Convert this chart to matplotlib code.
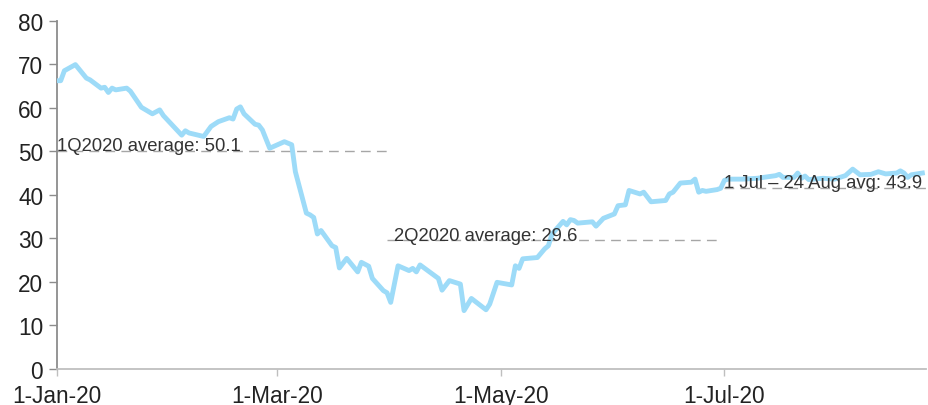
import matplotlib
matplotlib.use("Agg")
import matplotlib.pyplot as plt
import pandas as pd

# Daily price points (US$/bbl)
dates = [
    "2020-01-01", "2020-01-02", "2020-01-03", "2020-01-06", "2020-01-09", "2020-01-10",
    "2020-01-13", "2020-01-14", "2020-01-15", "2020-01-16", "2020-01-17", "2020-01-20",
    "2020-01-21", "2020-01-24", "2020-01-27", "2020-01-29", "2020-01-30", "2020-02-04",
    "2020-02-05", "2020-02-06", "2020-02-10", "2020-02-12", "2020-02-14", "2020-02-17",
    "2020-02-18", "2020-02-19", "2020-02-20", "2020-02-21", "2020-02-24", "2020-02-25",
    "2020-02-26", "2020-02-28", "2020-03-03", "2020-03-05", "2020-03-06", "2020-03-09",
    "2020-03-10", "2020-03-11", "2020-03-12", "2020-03-13", "2020-03-16", "2020-03-17",
    "2020-03-18", "2020-03-20", "2020-03-23", "2020-03-24", "2020-03-26", "2020-03-27",
    "2020-03-30", "2020-03-31", "2020-04-01", "2020-04-03", "2020-04-06", "2020-04-07",
    "2020-04-08", "2020-04-09", "2020-04-14", "2020-04-15", "2020-04-17", "2020-04-20",
    "2020-04-21", "2020-04-23", "2020-04-27", "2020-04-28", "2020-04-30", "2020-05-04",
    "2020-05-05", "2020-05-06", "2020-05-07", "2020-05-11", "2020-05-13", "2020-05-14",
    "2020-05-15", "2020-05-18", "2020-05-19", "2020-05-20", "2020-05-21", "2020-05-22",
    "2020-05-26", "2020-05-27", "2020-05-29", "2020-06-01", "2020-06-02", "2020-06-04",
    "2020-06-05", "2020-06-08", "2020-06-09", "2020-06-11", "2020-06-15", "2020-06-16",
    "2020-06-17", "2020-06-19", "2020-06-22", "2020-06-23", "2020-06-24", "2020-06-25",
    "2020-06-26", "2020-06-29", "2020-06-30", "2020-07-01", "2020-07-02", "2020-07-06",
    "2020-07-10", "2020-07-15", "2020-07-16", "2020-07-17", "2020-07-20", "2020-07-21",
    "2020-07-22", "2020-07-23", "2020-07-24", "2020-07-28", "2020-07-31", "2020-08-03",
    "2020-08-05", "2020-08-07", "2020-08-10", "2020-08-12", "2020-08-14", "2020-08-17",
    "2020-08-18", "2020-08-19", "2020-08-20", "2020-08-21", "2020-08-24",
]
prices = [
    66.2, 66.2, 68.5, 69.9, 66.8, 66.4,
    64.5, 64.7, 63.5, 64.5, 64.1, 64.5,
    63.8, 60.1, 58.6, 59.5, 58.2, 53.7,
    54.7, 54.2, 53.4, 55.7, 56.8, 57.7,
    57.4, 59.7, 60.2, 58.6, 56.2, 56.0,
    54.9, 50.7, 52.2, 51.5, 45.3, 35.8,
    35.4, 34.8, 31.0, 31.8, 28.3, 27.9,
    23.2, 25.4, 22.3, 24.5, 23.6, 20.8,
    18.0, 17.5, 15.3, 23.7, 22.6, 23.1,
    22.3, 23.9, 20.8, 18.1, 20.3, 19.5,
    13.4, 16.2, 13.6, 14.9, 19.9, 19.3,
    23.7, 23.1, 25.3, 25.6, 27.6, 28.3,
    31.0, 33.9, 33.1, 34.3, 34.1, 33.5,
    33.8, 32.8, 34.6, 35.6, 37.5, 37.7,
    41.0, 40.2, 40.6, 38.4, 38.7, 40.2,
    40.6, 42.7, 42.9, 43.6, 40.6, 41.0,
    40.8, 41.2, 41.5, 43.3, 43.6, 43.6,
    43.8, 44.4, 44.7, 44.0, 44.0, 45.0,
    43.8, 44.3, 43.5, 43.8, 43.6, 44.4,
    45.9, 44.6, 44.7, 45.3, 44.8, 45.0,
    45.5, 45.0, 44.0, 44.6, 45.0,
]

# Period averages: start, end, level of the dashed line, label
avg_starts = ["2020-01-01", "2020-03-31", "2020-07-01"]
avg_ends = ["2020-03-31", "2020-06-30", "2020-08-25"]
avg_levels = [50.1, 29.6, 41.6]
avg_text_x = ["2020-01-01", "2020-04-02", "2020-07-01"]
avg_labels = ["1Q2020 average: 50.1", "2Q2020 average: 29.6", "1 Jul \u2013 24 Aug avg: 43.9"]

tick_dates = ["2020-01-01", "2020-03-01", "2020-05-01", "2020-07-01"]
tick_labels = ["1-Jan-20", "1-Mar-20", "1-May-20", "1-Jul-20"]

plt.rcParams["font.family"] = ["Liberation Sans", "DejaVu Sans"]

fig = plt.figure(figsize=(9.29, 4.06), dpi=100)
ax = fig.add_axes([0.0614, 0.0887, 0.9354, 0.858])

ax.plot(pd.to_datetime(dates), prices, color="#9ddbf8", lw=3.5,
        solid_joinstyle="round", zorder=3)

# dashed average lines and their labels
for s, e, lvl in zip(avg_starts, avg_ends, avg_levels):
    ax.plot(pd.to_datetime([s, e]), [lvl, lvl], color="#a6a6a6", lw=1.0,
            dashes=(7, 4.5), zorder=2)

for tx, lvl, lab in zip(avg_text_x, avg_levels, avg_labels):
    ax.text(pd.Timestamp(tx), lvl + 0.1, lab, fontsize=13.3, color="#333333",
            ha="left", va="baseline", zorder=4)

ax.set_xlim(pd.Timestamp("2020-01-01"), pd.Timestamp("2020-08-25"))
ax.set_ylim(0, 80)
ax.set_yticks(range(0, 81, 10))
ax.set_xticks(pd.to_datetime(tick_dates))
ax.set_xticklabels(tick_labels)

for side in ["top", "right"]:
    ax.spines[side].set_visible(False)
ax.spines["left"].set_color("#8c8c8c")
ax.spines["bottom"].set_color("#bfbfbf")
ax.spines["left"].set_linewidth(1.3)
ax.spines["bottom"].set_linewidth(1.3)
ax.tick_params(axis="y", length=6, width=1, color="#8c8c8c", labelsize=16.3,
               labelcolor="#222222", pad=4)
ax.tick_params(axis="x", length=5, width=1, color="#bfbfbf", labelsize=16.3,
               labelcolor="#222222", pad=5.5)

fig.savefig("out.png", dpi=100)
